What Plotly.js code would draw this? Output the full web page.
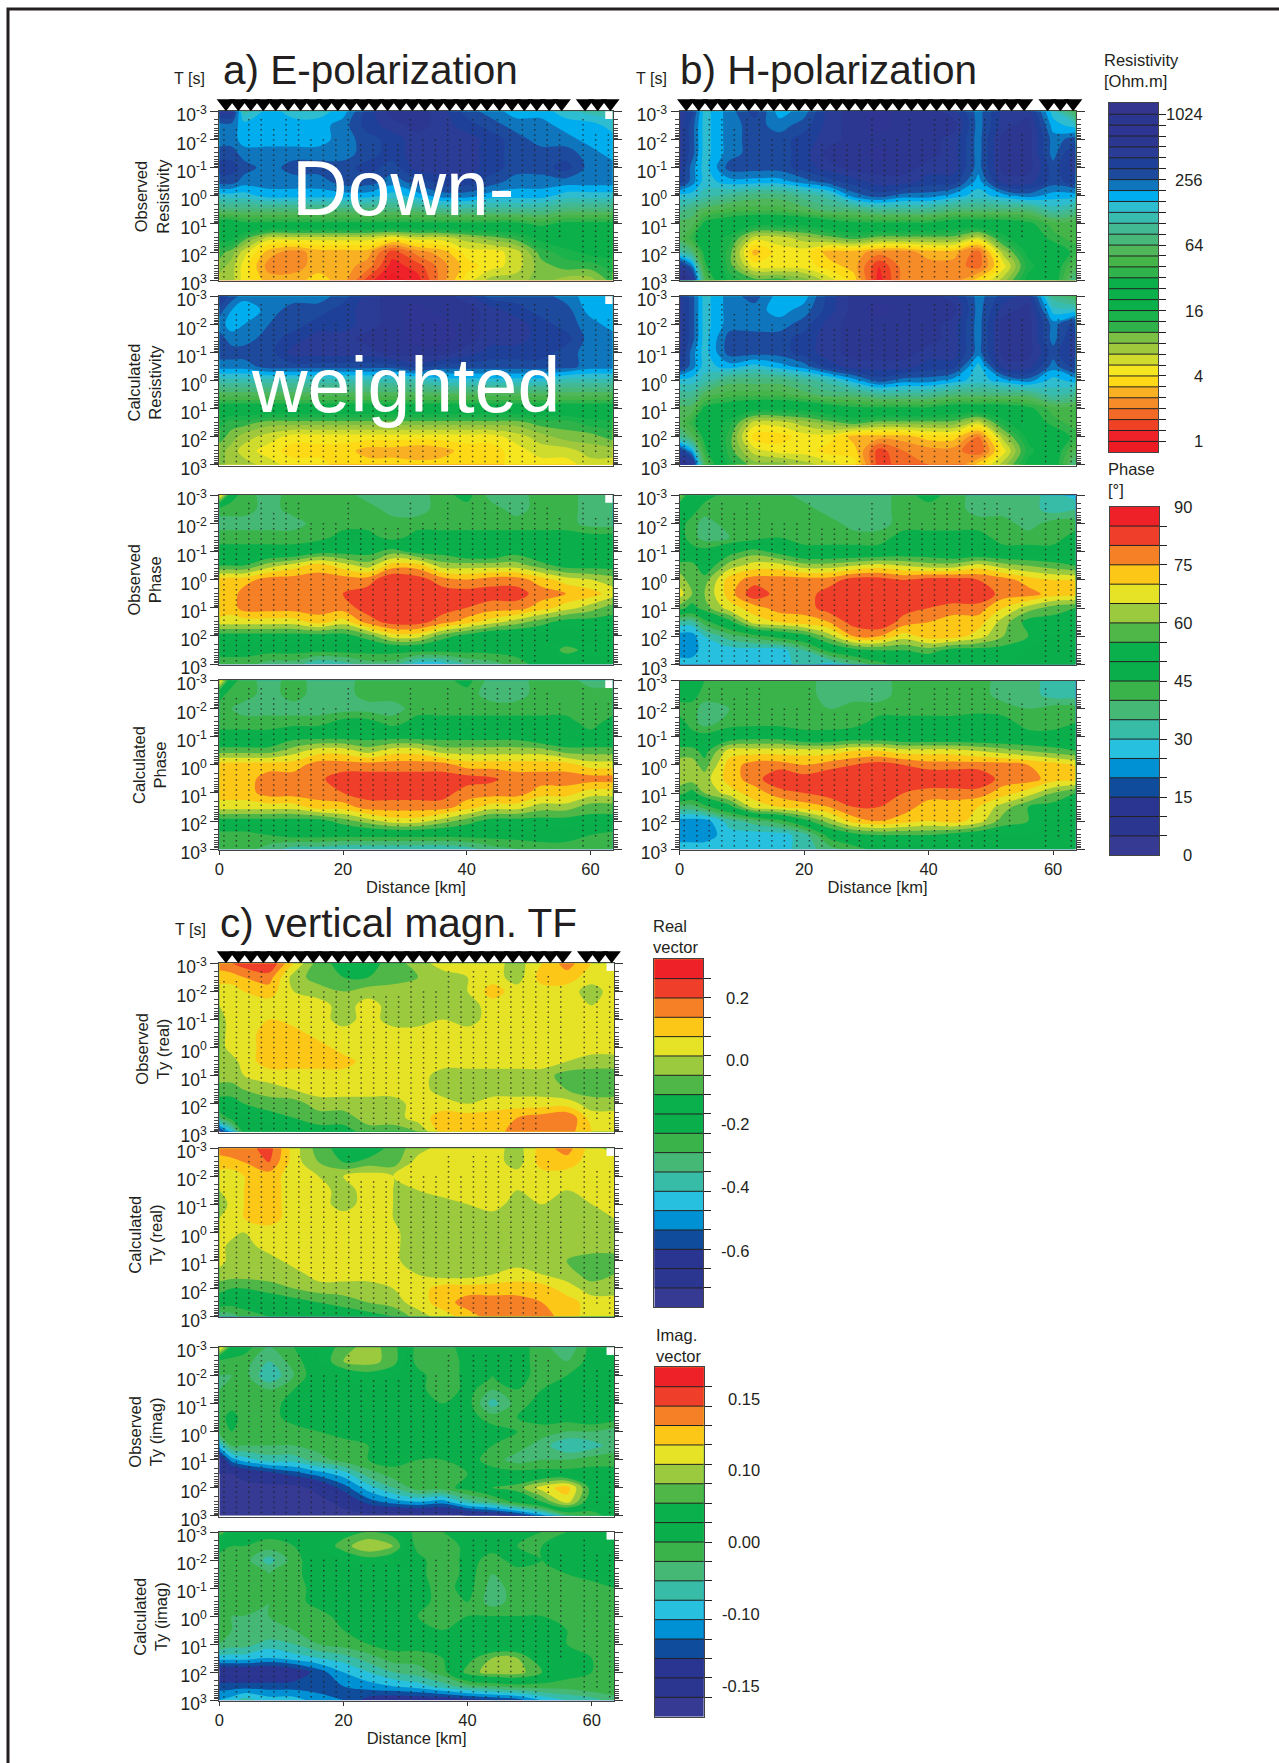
<!DOCTYPE html>
<html><head><meta charset="utf-8">
<script src="https://cdn.plot.ly/plotly-3.0.1.min.js"></script>
<style>html,body{margin:0;padding:0;background:#fff}#g{width:1279px;height:1763px}</style>
</head><body><div id="g"></div>
<script>
// ---------- shared grid ----------
const distanceKm=[0,2,4,8,12,16,20,24,28,32,36,40,44,48,52,56,60,63.6];
const periodS=[0.001,0.00316,0.01,0.0316,0.1,0.316,1,3.16,10,31.6,100,316,1000];
const stationKm=[0.75,2.76,4.77,6.78,8.79,10.8,12.81,14.82,16.83,18.84,20.85,22.86,24.87,26.88,28.89,30.9,32.91,34.92,36.93,38.94,40.95,42.96,44.97,46.98,48.99,51,53.01,55.02,58.8,60.85,62.9];
const stationTopLog=[-2.4,-2.4,-2.8,-2.8,-2.4,-2.8,-2.8,-2.1,-2.1,-2.1,-2.8,-1.9,-1.9,-1.9,-1.9,-2.8,-2,-2,-2.8,-2,-2.8,-2.8,-2.8,-2.8,-2.8,-2.8,-2.6,-2.3,-2.8,-2.3,-2.3];
const stationBottomLog=[2.9,2.9,2.9,2.9,2.9,2.9,2.9,2.9,2.9,2.9,2.9,2.9,2.9,2.9,2.9,2.9,2.9,2.9,2.9,2.9,2.9,2.9,2.9,2.9,2.9,2.9,2.2,1.6,2.9,2.6,2.9];
const sampledLog=[-2.88,-2.7,-2.52,-2.34,-2.16,-1.98,-1.8,-1.62,-1.44,-1.26,-1.08,-0.9,-0.72,-0.54,-0.36,-0.18,0,0.18,0.36,0.54,0.72,0.9,1.08,1.26,1.44,1.62,1.8,1.98,2.16,2.34,2.52,2.7,2.88];

// ---------- resistivity bands (0 = lowest of 32, level 1 = 1 Ohm.m, level 31 = 1024 Ohm.m) ----------
const rhoEobs=[
[27,27,21,23,22,22,23,26,28,28,27,25,24,23,23,22,21,21],
[24,24,23,23,23,23,24,26,27,28,27,26,25,24,24,23,23,22],
[24,24,23,23,23,23,24,25,26,27,27,27,26,25,24,24,23,23],
[25,25,24,24,24,24,24,25,26,27,27,27,26,25,25,25,24,23],
[26,26,25,24,25,25,25,26,25,27,27,27,26,25,25,26,24,24],
[25,25,24,24,24,24,25,25,24,25,26,26,25,24,24,24,24,24],
[22,22,22,23,23,23,23,23,22,23,24,24,23,23,23,22,22,22],
[19,19,19,19,19,19,19,19,19,19,20,20,20,20,20,19,19,19],
[14,14,15,15,15,15,15,15,15,15,15,15,15,15,16,15,15,15],
[13,13,11,8,8,8,8,8,7,8,8,9,10,11,13,14,14,14],
[11,10,8,5,4,5,5,5,2,4,5,7,7,8,11,12,13,13],
[10,9,7,4,4,5,5,4,1,2,4,6,7,8,10,11,11,12],
[9,9,7,5,5,6,5,2,0,1,4,7,9,9,10,9,9,11]];
const rhoEcal=[
[27,25,24,24,24,24,25,27,28,28,28,27,25,25,25,24,23,23],
[25,23.5,22.5,24,25,25,26,27,28,29,28,28,27,26,25,25,23,23],
[24,23,23.5,24.5,25,26,26,27,28,29,29,28,27,27,26,25,24,23],
[25,24,24,25,26,27,27,28,28,29,29,28,27,27,26,26,24,24],
[25,25,25,25,27,27,27,27,28,28,28,27,26,26,26,25,24,24],
[24,24,24,25,25,25,25,25,25,26,25,25,25,25,25,25,24,24],
[21,21,21,21,21,21,21,21,21,21,22,22,22,22,22,21,21,21],
[18,18,18,18,18,18,18,18,18,18,18,18,18,18,18,18,18,18],
[14,14,14,14,14,14,14,14,14,14,14,14,14,14,14,14,14,14],
[12,11,11,10,10,10,10,10,10,10,10,10,10,10,11,11,12,12],
[11,10,9,8,7,7,7,7,7,7,7,7,7,8,9,10,10,11],
[10,9,8,7,6,6,6,5,5,4.5,5,6,6,7,8,8,9,9],
[10,9,9,8,7,7,6,6,6,6,6,6,6,7,7,7,8,8]];
const rhoHobs=[
[27,26,22,24,26,23,24,27,28,29,28,28,27,24,27,27,22,18],
[27,25,22,24,25,24,25,27,28,29,28,28,28,24,27,28,23,22],
[27,25,22,24,25,25,26,27,28,28,28,28,27,24,28,28,24,25],
[27,25,22,24,25,25,26,28,28,29,28,28,27,24,28,28,24,27],
[27,24,22,25,25,25,26,27,28,28,28,27,27,24,28,28,25,27],
[26,24,22,23,23,23,24,25,26,27,27,26,26,23,27,27,25,26],
[22,22,21,20,19,19,20,21,24,25,24,24,23,22,23,24,23,23],
[20,19,18,17,17,17,18,19,19,20,20,20,19,19,19,19,21,20],
[18,18,15,14,13,13,13,14,15,15,15,15,14,14,14,15,17,17],
[18,16,14,12,8,8,9,10,11,10,10,10,10,8,12,14,16,17],
[21,19,15,11,5,7,7,5,5,4,4,5,5,3,9,13,14,16],
[27,24,16,11,7,7,7,6,5,1.5,4,4,4,3,7,12,14,18],
[29,28,18,12,11,11,10,8,6,1,4,4,4,6,9,13,14,20]];
const rhoHcal=[
[27,25,22,24,25,23,23,26,28,28,28,28,27,24,26,27,20,18],
[27,25,22,24,24,23,24,26,28,29,28,28,28,24,27,28,22,22],
[27,25,22,24,24,24,25,27,28,28,28,28,27,24,28,28,24,26],
[27,25,22,25,25,25,26,27,28,28,28,28,27,24,28,28,24,27],
[27,24,22,25,25,25,26,27,28,28,28,27,27,24,28,28,25,27],
[26,24,22,23,22,23,24,26,27,27,27,26,26,22,27,27,24,26],
[22,22,21,19,19,19,20,21,23,25,24,24,23,22,23,24,22,23],
[20,20,18,17,17,17,18,19,19,20,20,20,19,19,19,19,21,20],
[18,18,15,14,13,13,13,14,15,15,15,15,14,14,14,15,17,17],
[18,16,14,12,8,8,9,10,11,10,10,10,10,8,12,14,16,17],
[20,18,15,11,6,6,7,7,5,5,5,6,6,3.5,9,13,14,16],
[26,23,16,11,8,7,7,6,6,2,3.5,4,4,2.5,7,12,14,18],
[29,28,18,12,10,10,9,8,7,2,3,3.5,3.5,6,9,13,14,20]];

// ---------- phase bands (each 5 degrees) ----------
const phaseEobs=[
[14,9,8,7,8,8,8,7,7,7,8,9,7,7,8,8,7,7],
[8,8,8,7,8,8,8,8,7,7,8,8,8,7,8,8,7,7],
[7,7,7,7,7,8,8,8,8,8,8,8,8,8,8,8,7,7],
[8,8,8,8,8,8,9,9,8,9,9,9,9,9,9,9,9,9],
[9,9,9,9,9,10,10,10,11,10,10,9,9,10,9,9,9,9],
[10.5,10.5,10.5,12,13,14,13,12,14,14,12,12,12,12,11,10,10,10],
[14,14,14,15,15,15,15,15,16.5,16,15,14.5,15,15,14,13,12.5,12],
[14,14,15,15,15,15,15.5,16,16,16,16,16,16,16,15,14.5,14,13],
[14.5,14,15,15,15,15,15,16,16,16,16,15.5,15,15,14,13,12,11],
[13,13,13,13,13,14,13,15,16,16,15,14,13,12,11,10,10,10],
[10,10,10,10,10,10,10,11,13,13,11,10,9,9,9,9,9,10],
[9,9,9,9,9,9,9,9,9,9,9,9,9,9,9,11,10,10],
[8,8,8,7,7,5.5,6,7,7,5,5,6.5,7,8,9,9,9,9]];
const phaseEcal=[
[14,9,8,7,8,7,7,8,8,8,8,9,7,7,8,8,7,7],
[9,8,8,7,8,7,7,8,8,8,8,8,7,7,8,8,8,8],
[8,7.5,7,7,7,7,7,7,7,8,8,8,8,8,8,8,8,8],
[8,8,8,8,8,8,9,9,8,9,9,9,9,9,9,9,8,9],
[9,9,9,9,10,10,10,10,10,10,10,10,10,10,9,9,9,9],
[11,11,11,11,12,13,13,12,13,13,12,12,12,12,12,11,11,11],
[14,14,14,14,14,15,15,15,15,15,15,14,14,14,14,14,13,13],
[14,14,14,15,15,15.3,16,16,16,16,16,16,15.7,15,15,15,15,15],
[14,14,14,15,15,15,15.5,16,16,16,16,15,15,15,14,14,13,13],
[13,13,13,13,13,14,14,15,15,15,15,14,13,13,12,12,11,11],
[10,10,10,10,10,10,11,12,13,13,12,11,10,10,10,10,10,10],
[8,8,8,8.5,9,9,9,9,9,9,9,9,9,9,9,9,8.5,8],
[8,8,8,7,6,6,5.5,5.5,5.5,5.5,5.5,6,7,7.5,8,8,8,8]];
const phaseHobs=[
[12,9,9,8,8,8,7,7,7,7,8,9,8,7,7,7,6,5],
[9,9,8,8,8,8,8,7,7,7,8,8,8,7,7,7,6,6.5],
[9,8,7,8,8,8,8,8,7,7,8,8,8,8,8,7,8,8],
[9,8,7,7.5,8,8.5,8,8,8,8,9,9,9,9,8,8,8,9],
[9,9,9,10,11,10,9,9,9,9,9.5,9.5,9,9,9,9,9,9],
[11,11,9.5,12,13,13,12,12,12.5,13,12.5,12,12,13,12,11.5,11,10.5],
[12,11,11,14,15,15,15,15,16,16,15.5,16,16,15.5,15,14,13.5,13.5],
[13,11.5,11.5,14,16.3,15,15,16,16.5,16.5,16.5,16.5,16.5,16.5,15,15,14,14],
[11,10,11,13,14,15,15,16,16.5,16.5,16,15.5,15,15,13.5,12,11,10.5],
[6,6,8,10,13,13.5,14,14.5,16,16.5,15,14.5,14,14,12,10,10,10],
[4,4,5.5,7,8,9,10,12,14.5,14.5,13,14,14,13,11.5,10.5,9.5,9.5],
[4,4,5,5,5,5,6.5,9,10,10.5,10.5,11,10,10,10,9.5,9,9],
[5,5,5,5,5,5,6,5,6.5,8,9,9,9,10,10,9,9,9]];
const phaseHcal=[
[9,9,8.5,8,8,8,8,7,6.5,7,8,8,8,8,7,7,6,6],
[9,9,8,8,8,8,8,7,7,7,8,8,8,8,7,7,6,6],
[8,8,7,7.5,8,8,8,7.5,8,8,8,8,8,8,8,7.5,8,8],
[9,8,7,8,8,8,8,8,8,9,9,9,9,9.5,9,8,8,8.5],
[9,9,9,9.5,10,10,9,9,9.5,9.5,9,9,9,9,9,9,9,9],
[11,11,10,13,13,13,13,13,13.5,13.5,13,13,13,12.5,12,11.5,11,10.5],
[12,12,11,14,15,15,14.5,15,15.5,16,15.5,15,15,15,15,14.5,14,13.5],
[12,12,12,14,15,16.5,16,16.5,16.5,16.5,16.5,16.5,16.5,16.5,15,15,14,14],
[11,10,11.5,13,14,15,15.5,16,16.5,16.5,15.5,15,15,15,14,13,11.5,10.5],
[7,7,8,10,13,13.5,14,14.5,15.5,15.5,15,14,14,13.5,12,10.5,10,10],
[4,4,4,6,7,8,10,12,14,14.5,14,13.5,14,13,11,10.5,9.5,9.5],
[4,4,4,5,5,5,6,9,10,10.5,10.5,10.5,10,9.5,9.5,9.5,9,9],
[5,5,5,5,5,5,6,7,8,9,9,9,9,9,9.5,9.5,9,9]];

// ---------- Ty real bands ----------
const tyRealObs=[
[15,15.5,16,16.5,13.5,11,10,10,11,12,13,13,13,12,13.5,15,13.5,12],
[14,14,14.5,15,12,11,10.5,10.5,11,11.5,12,12.5,13,12,14,14,13,13],
[13,13,13.5,14,12.5,12,11.5,12,12,12,12,12.5,14,13,13,13,12,13],
[12.5,13,13,13,13,13,12,13,12,12,12,12,13,13,13,13,12.5,13],
[12,13,13,13.5,13,13,12,13,12,12,12.5,12,13,13,13,13,13,13],
[12,13,13,14,14,13,13,13,13,13,13,13,13,13,13,13,13,13],
[12,13,13,14,14,14,13,13,13,13,13,13,13,13,13,13,13,13],
[12,12,13,14,14,14,14,13,13,13,13,13,13,13,13,12.5,12,12],
[12,12,12.5,13,13,13,13,13,13,13,12,12,12,12,12,11,11,11],
[11,11,11.5,12,12.5,13,13,13,13,13,12,12,12,12,12,11.5,11,11],
[10,10,10.5,11,11,12,12,12,12,13,13,12.5,13,13,13,13,12,12],
[7.5,9,9.5,10,10.5,11,11,12,12,13,14,14,14,14.5,15,15.5,13,13],
[2,5,9,9,9.5,10,10,11,11,11.5,14,14,14,15,15,15,13.5,13]];
const tyRealCal=[
[15,15.5,15,16,13,11,10,9.5,11,12,13,13,13,12,14,15,13,12],
[14,14,14.5,15.5,13,11.5,10.5,11,11,13,13,13,13,12,14,14,13,13],
[13,13,13.5,14,13,12.5,12.5,13,12.5,13,13,13,13.5,13,13,13,13,13],
[12.5,13,13.5,14,13,13,12,13,12.5,12.5,13,13,13,12.5,13,12.5,13,13],
[11.5,13,13.5,14,13,13,12,13,12.5,12,12,12.5,13,12,12.5,12,12.5,13],
[12.5,13,13.5,14,13,13,13,13,12.5,12,12,12,12,12,12,12,12,12.5],
[13,13,12.5,13,13,13,13,13,12.7,12,12,12,12,12,12,12,12,12],
[13,12,12,13,13,13,13,13,12.7,12,12,12,12,12,12,12,12,12],
[13,12,12,12,13,13,13,13,12.7,12,12,12,12,12,12,11.5,11,11],
[12,12,12,12,12,13,13,13,12.7,12.5,12,12,12.5,13,12.5,12,11,11.5],
[11,10.5,10.5,11,11.5,12,12,12,12.5,13,14,14,14,14,14,13,12,12],
[9.5,9,9,9.5,10,10.5,11,11.5,12,13,14,15,15,15,14.5,14,13,13],
[6.5,7,8,8.5,9,9,9.5,10,10.5,12,13,14,15,15,15,14,13,13]];

// ---------- Ty imag bands ----------
const tyImagObs=[
[14,10,9,7.5,8.5,9.5,11,12,11,8,8,9,9,9,8,6.5,9,9.5],
[8,8,8,6.5,8,9.5,11.5,12,11,8,7.5,9,8.5,9,8,7.5,9,9.5],
[7.5,7.5,8,5.5,7.5,9.5,9.5,10,9.5,9,7.5,9,8.5,9,8,8.5,9,8.5],
[7.5,8,8,7.5,8.5,9.5,9.5,9.5,9.5,9,7.5,9,7.5,8.5,8.5,9,9.5,9.5],
[8,8,8,8,9,9.5,9.5,9.5,9.5,9,8.5,9,6,8,9,9,9.5,9.5],
[8,9,8,8,9,9.5,9.5,9.5,9.5,9,9,9,8,8.5,9,9,9.5,9],
[8,8.5,8,8,8,8.5,9,9.5,9.5,9,9,9,9,8.5,8,7.5,7.5,7],
[5,7.5,7.5,7.5,7.5,8,8,8.5,9,9.5,9,9,8.5,8,7,5.5,6,7],
[1,4,5,6,6,7,8,8.5,9,8.5,8.5,9,8,7,7.5,7.5,8,8],
[0.5,0.5,1,2,3,4,5,7,8,8,8.5,8.5,9,9,9,9,9,9],
[0,0,0,0,0,1,3,5,6.5,8,8,9,10.5,11,13,14,10,10],
[0,0,0,0,0,0,1,3,4,4.5,4,6,7,9,10.5,13,9.5,9],
[0,0,0,0,0,0,0,0,0,0,0,0.5,1,2,4,7,8,9]];
const tyImagCal=[
[11,10,9.5,9,9,9,10,10.5,10,8,8.5,9,9,9,8.5,8.5,9,9.5],
[9,8.5,8.5,8,8.5,9.5,11,12.5,11.5,8,7.5,9,9,8.5,8.5,9,9.5,9],
[8,8,8,6,8,9.5,9.5,10,9.5,9,7.5,9,8,9,8.5,9,9.5,9],
[8,8,8,7.5,8,9.5,9.5,9.5,10.5,9,7.5,9,7.5,8,8.5,8.5,9,9],
[8,8,8,7.5,8,9,9.5,9.5,9.5,9,8,9,7,8,8.5,8,8,8.5],
[8,8,8,7.5,8,9,9.5,9.5,9.5,9,8,8.5,7,8,8,7.5,7.5,8],
[8,7.5,7.5,7.5,8,8,9,9.5,9,8.5,8,8.5,8.5,8.5,8.5,8,8,8],
[8,7.5,7.5,7.5,7.5,8,8.5,9,9,9,8.5,9,9,9,9,8.5,8,8],
[7.5,7,7,6,6.5,7.5,8,8.5,9,9,9,9,9,9,9,8.5,8,8],
[5,5,5,4.5,5,5.5,6,7,8,8,8.5,10,11.5,11.5,9.5,9,8.5,8.5],
[1,1,1,1,1.5,3,4.5,5.5,6.5,7,8,11,12,12,10.5,9,8.5,8.5],
[3,3,3,3,3,3,3.5,4,4.5,5,6,7,7.5,8,8,8,8.5,8.5],
[4.5,5,6,5,5,4,3.5,2,1.5,1.5,1.5,2,2.5,3,4.5,5.5,6,7]];

// ---------- colour bars ----------
const rhoBarLabels=['1024','256','64','16','4','1'];
const rhoBarLevels=[31,25,19,13,7,1];
const phaseBarLabels=['90','75','60','45','30','15','0'];
const phaseBarLevels=[18,15,12,9,6,3,0];
const realBarLabels=['0.2','0.0','-0.2','-0.4','-0.6'];
const realBarLevels=[16,12.8,9.5,6.2,2.9];
const imagBarLabels=['0.15','0.10','0.00','-0.10','-0.15'];
const imagBarLevels=[16.36,12.7,9,5.3,1.57];
const rhoPalette=['#ed1c24','#ee2228','#ef4225','#f26a25','#f58c28','#f9b123','#fdd916','#f5e61f','#cfdc2e','#9fc83c','#7bbf43','#2fb24a','#1ab24a','#0bb04b','#0bb04b','#0bb04b','#2fb34a','#45b54a','#4fb75a','#48b87a','#42b993','#38bcb0','#2ebcd0','#00aeef','#0f75bc','#1d4a9d','#1f4099','#2a3c96','#2b3790','#2e3592','#2b3691','#33358f'];
const bandPalette=['#373a93','#2b3691','#2a3592','#0f4c9c','#0090d4','#27c1df','#37bca8','#46b875','#3ab44a','#0aae4b','#0ab04b','#4fb748','#9bca3f','#e6e327','#fdc718','#f58025','#ef3e29','#ee2128'];

// ---------- layout helpers ----------
const W=1279,H=1763,FONT='"Liberation Sans",Arial,sans-serif',INK='#231f20';
const dx=(a,b)=>[a/W,b/W], dy=(t,b)=>[1-b/H,1-t/H];
const px=v=>v/W, py=v=>1-v/H;
const steps=p=>{const n=p.length,s=[];p.forEach((c,i)=>{s.push([i/n,c]);s.push([(i+1)/n,c]);});return s;};
const minorVals=[];for(let d=-3;d<3;d++)for(let m=2;m<10;m++)minorVals.push(m*Math.pow(10,d));
const majorVals=[0.001,0.01,0.1,1,10,100,1000];
const majorText=['10<sup>-3</sup>','10<sup>-2</sup>','10<sup>-1</sup>','10<sup>0</sup>','10<sup>1</sup>','10<sup>2</sup>','10<sup>3</sup>'];

const XA=[219.3,612.7],XB=[679.6,1075.5],XC=[219.3,614];
const panels=[
 {z:rhoEobs,p:rhoPalette,x:XA,y:[111.3,281],tri:true,sq:true},
 {z:rhoEcal,p:rhoPalette,x:XA,y:[296.3,465.7],sq:true},
 {z:phaseEobs,p:bandPalette,x:XA,y:[495,665],sq:true},
 {z:phaseEcal,p:bandPalette,x:XA,y:[680.3,850],bottom:true,sq:true},
 {z:rhoHobs,p:rhoPalette,x:XB,y:[111.3,281],tri:true},
 {z:rhoHcal,p:rhoPalette,x:XB,y:[296.3,465.7]},
 {z:phaseHobs,p:bandPalette,x:XB,y:[495.3,665.3]},
 {z:phaseHcal,p:bandPalette,x:XB,y:[680.7,850],bottom:true},
 {z:tyRealObs,p:bandPalette,x:XC,y:[963.3,1132.7],tri:true,sq:true},
 {z:tyRealCal,p:bandPalette,x:XC,y:[1148.3,1317.3],sq:true},
 {z:tyImagObs,p:bandPalette,x:XC,y:[1347.3,1516.7],sq:true},
 {z:tyImagCal,p:bandPalette,x:XC,y:[1532,1701],bottom:true,sq:true}
];
const bars=[
 {p:rhoPalette,x:[1108.9,1158.2],y:[103.3,452.3],lab:rhoBarLabels,lev:rhoBarLevels,right:1205},
 {p:bandPalette,x:[1110,1159],y:[506.7,855.3],lab:phaseBarLabels,lev:phaseBarLevels,right:1194},
 {p:bandPalette,x:[654.3,703.3],y:[959.3,1307.3],lab:realBarLabels,lev:realBarLevels,right:751},
 {p:bandPalette,x:[654.7,703.8],y:[1367.3,1716.7],lab:imagBarLabels,lev:imagBarLevels,right:762}
];

const traces=[],layout={width:W,height:H,margin:{l:0,r:0,t:0,b:0},paper_bgcolor:'#fff',plot_bgcolor:'#fff',showlegend:false,
 font:{family:FONT,color:INK,size:16.5},annotations:[],shapes:[]};
const dotX=[],dotY=[];
stationKm.forEach((km,i)=>sampledLog.forEach(l=>{if(l>=stationTopLog[i]&&l<=stationBottomLog[i]){dotX.push(km);dotY.push(Math.pow(10,l));}}));

panels.forEach((P,i)=>{
 const n=i+1,xn=n===1?'x':'x'+n,yn=n===1?'y':'y'+n,xk=n===1?'xaxis':'xaxis'+n,yk=n===1?'yaxis':'yaxis'+n;
 traces.push({type:'contour',x:distanceKm,y:periodS,z:P.z.map(r=>r.map(v=>v+0.5)),xaxis:xn,yaxis:yn,
  autocontour:false,contours:{start:1,end:P.p.length-1,size:1,coloring:'fill',showlines:false},line:{width:0},
  colorscale:steps(P.p),zmin:0,zmax:P.p.length,showscale:false,hoverinfo:'skip'});
 traces.push({type:'scatter',mode:'markers',x:dotX,y:dotY,xaxis:xn,yaxis:yn,marker:{symbol:'square',size:1.5,color:'#222',opacity:0.75,line:{width:0}},hoverinfo:'skip'});
 layout[xk]={domain:dx(P.x[0],P.x[1]),range:[0,63.6],anchor:yn,tickmode:'array',tickvals:P.bottom?[0,20,40,60]:[],ticks:P.bottom?'outside':'',ticklen:4,
  tickcolor:'#333',showgrid:false,zeroline:false,showline:true,linecolor:'#444',linewidth:1,mirror:true,showticklabels:!!P.bottom,
  tickfont:{size:16.5,family:FONT,color:INK},
  title:P.bottom?{text:'Distance [km]',font:{size:16.5,family:FONT,color:INK},standoff:1}:undefined};
 layout[yk]={domain:dy(P.y[0],P.y[1]),type:'log',range:[3.03,-3],anchor:xn,tickmode:'array',tickvals:majorVals,ticktext:majorText,ticks:'outside',ticklen:8,
  tickcolor:'#333',tickwidth:1,showgrid:false,zeroline:false,showline:true,linecolor:'#444',linewidth:1,mirror:'ticks',
  tickfont:{size:17.5,family:FONT,color:INK},ticklabelshift:-4,
  minor:{tickmode:'array',tickvals:minorVals,ticks:'outside',ticklen:4,tickcolor:'#444',tickwidth:1,showgrid:false}};
 if(P.sq) layout.shapes.push({type:'rect',xref:xn,yref:yn+' domain',x0:62.4,x1:63.6,y0:0.955,y1:1,fillcolor:'#fff',line:{width:0},layer:'above'});
});

bars.forEach((B,i)=>{
 const n=panels.length+i+1,xn='x'+n,yn='y'+n,N=B.p.length;
 traces.push({type:'contour',x:[0,1],y:[0,N],z:[[0,0],[N,N]],xaxis:xn,yaxis:yn,autocontour:false,
  contours:{start:1,end:N-1,size:1,coloring:'fill',showlines:true},line:{width:1,color:'#222'},
  colorscale:steps(B.p),zmin:0,zmax:N,showscale:false,hoverinfo:'skip'});
 layout['xaxis'+n]={domain:dx(B.x[0],B.x[1]),range:[0,1],anchor:yn,showticklabels:false,ticks:'',showgrid:false,zeroline:false,showline:true,linecolor:'#444',mirror:true};
 const ints=[];for(let k=1;k<N;k++)ints.push(k);
 layout['yaxis'+n]={domain:dy(B.y[0],B.y[1]),range:[0,N],anchor:xn,side:'right',tickmode:'array',tickvals:ints,ticks:'outside',ticklen:7,tickcolor:'#222',tickwidth:1,
  showticklabels:false,showgrid:false,zeroline:false,showline:true,linecolor:'#444',mirror:true};
 B.lab.forEach((t,k)=>layout.annotations.push({text:t,xref:'paper',yref:yn,x:px(B.right),y:B.lev[k],xanchor:'right',yanchor:'middle',showarrow:false,font:{size:16.5,family:FONT,color:INK}}));
});

// station triangles: a thin strip of axes directly above each top panel
panels.filter(P=>P.tri).forEach((P,i)=>{
 const n=panels.length+bars.length+i+1,xn='x'+n,yn='y'+n;
 traces.push({type:'scatter',mode:'markers',x:stationKm,y:stationKm.map(()=>0.5),xaxis:xn,yaxis:yn,cliponaxis:false,
  marker:{symbol:'triangle-down',size:16,color:'#000',line:{width:0}},hoverinfo:'skip'});
 layout['xaxis'+n]={domain:dx(P.x[0]+2,P.x[1]+2),range:[0,63.6],anchor:yn,visible:false};
 layout['yaxis'+n]={domain:dy(P.y[0]-16,P.y[0]),range:[0,1],anchor:xn,visible:false};
});

function note(t,x,y,o){layout.annotations.push(Object.assign({text:t,xref:'paper',yref:'paper',x:px(x),y:py(y),xanchor:'center',yanchor:'middle',showarrow:false,font:{size:16.5,family:FONT,color:INK}},o||{}));}
const big={size:40.5,family:FONT,color:INK};
note('a) E-polarization',221,70,{xanchor:'left',font:big});
note('b) H-polarization',678.3,70,{xanchor:'left',font:big});
note('c) vertical magn. TF',218,923,{xanchor:'left',font:big});
note('T [s]',190,78.3,{font:{size:16,family:FONT,color:INK}});
note('T [s]',651,78.3,{font:{size:16,family:FONT,color:INK}});
note('T [s]',190.6,930,{font:{size:16,family:FONT,color:INK}});
const rot={textangle:-90};
note('Observed<br>Resistivity',152,196.7,rot);
note('Calculated<br>Resistivity',143.5,383,rot);
note('Observed<br>Phase',143.5,580,rot);
note('Calculated<br>Phase',149,765,rot);
note('Observed<br>Ty (real)',151.7,1049,rot);
note('Calculated<br>Ty (real)',144.7,1235,rot);
note('Observed<br>Ty (imag)',144.7,1432,rot);
note('Calculated<br>Ty (imag)',149.7,1617,rot);
note('Resistivity<br>[Ohm.m]',1102,71,{xanchor:'left',align:'left'});
note('Phase<br>[°]',1105.5,480,{xanchor:'left',align:'left'});
note('Real<br>vector',650.5,936,{xanchor:'left',align:'left'});
note('Imag.<br>vector',653.5,1345,{xanchor:'left',align:'left'});
const over={size:77,family:FONT,color:'#fff'};
note('Down-',403,188,{font:over});
note('weighted',405,385,{font:over});
// outer frame of the figure
layout.shapes.push({type:'path',xref:'paper',yref:'paper',path:`M ${px(8)} 0 L ${px(8)} ${py(9)} L 1 ${py(9)}`,line:{color:'#231f20',width:3},layer:'above'});

Plotly.newPlot('g',traces,layout,{displayModeBar:false,staticPlot:true});
</script></body></html>
